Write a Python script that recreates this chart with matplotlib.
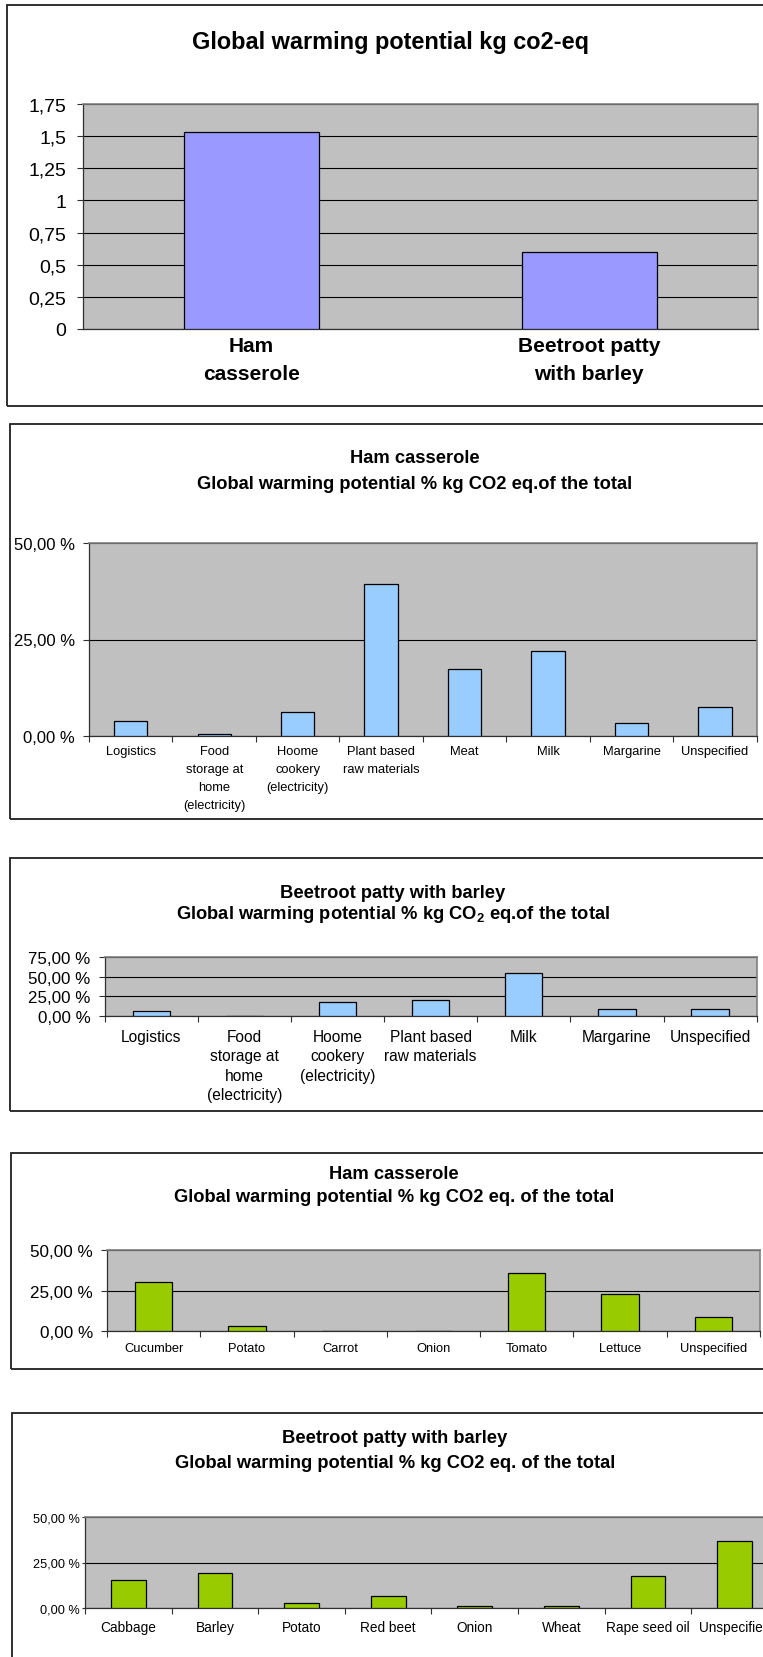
import matplotlib
matplotlib.use("Agg")
import matplotlib.pyplot as plt
from matplotlib.patches import Rectangle
from matplotlib.ticker import FuncFormatter
import numpy as np

plt.rcParams["font.family"] = ["Liberation Sans", "DejaVu Sans"]
plt.rcParams["mathtext.fontset"] = "custom"
plt.rcParams["mathtext.rm"] = "Liberation Sans"
plt.rcParams["mathtext.bf"] = "Liberation Sans:bold"

# ---- data ----
dish_labels = ["Ham\ncasserole", "Beetroot patty\nwith barley"]
dish_gwp_kg = [1.53, 0.60]

ham_stage_labels = ["Logistics", "Food\nstorage at\nhome\n(electricity)",
                    "Hoome\ncookery\n(electricity)", "Plant based\nraw materials",
                    "Meat", "Milk", "Margarine", "Unspecified"]
ham_stage_pct = [3.7, 0.4, 6.2, 39.5, 17.4, 21.9, 3.4, 7.4]

beet_stage_labels = ["Logistics", "Food\nstorage at\nhome\n(electricity)",
                     "Hoome\ncookery\n(electricity)", "Plant based\nraw materials",
                     "Milk", "Margarine", "Unspecified"]
beet_stage_pct = [5.6, 0.0, 18.0, 20.1, 54.9, 8.1, 8.1]

ham_plant_labels = ["Cucumber", "Potato", "Carrot", "Onion", "Tomato", "Lettuce", "Unspecified"]
ham_plant_pct = [30.4, 3.3, 0.0, 0.0, 35.5, 22.9, 9.0]

beet_plant_labels = ["Cabbage", "Barley", "Potato", "Red beet", "Onion", "Wheat",
                     "Rape seed oil", "Unspecified"]
beet_plant_pct = [15.5, 19.5, 3.1, 6.9, 1.3, 1.3, 17.5, 36.5]

# ---- figure in pixel units ----
W, H = 763, 1658
fig = plt.figure(figsize=(W / 100, H / 100), dpi=100)
fig.patch.set_facecolor("white")


def px_axes(x0, y0, x1, y1):
    return fig.add_axes([x0 / W, 1 - y1 / H, (x1 - x0) / W, (y1 - y0) / H])


def frame(x0, y0, x1, y1):
    fig.add_artist(Rectangle((x0 / W, 1 - y1 / H), (x1 - x0) / W, (y1 - y0) / H,
                             transform=fig.transFigure, fill=False,
                             edgecolor="#202020", linewidth=1.3))


def ftext(x, y, s, size, bold=True):
    fig.text(x / W, 1 - y / H, s, ha="center", va="center", fontsize=size,
             fontweight="bold" if bold else "normal", color="black")


pct_fmt = FuncFormatter(lambda v, p: f"{v:.2f} %".replace(".", ","))
kg_fmt = FuncFormatter(lambda v, p: f"{v:g}".replace(".", ","))


def bar_panel(ax, labels, values, color, ymax, ystep, yfmt, ysize, xsize,
              xpad, ypad=6, ylen=4, xbold=False, cat_ticks=True, linesp=1.25):
    n = len(values)
    x = np.arange(n)
    ax.set_facecolor("#C0C0C0")
    ax.bar(x, values, width=0.4, color=color, edgecolor="black",
           linewidth=0.9, zorder=3)
    ax.set_xlim(-0.5, n - 0.5)
    ax.set_ylim(0, ymax)
    ax.set_yticks(np.arange(0, ymax + 1e-9, ystep))
    ax.yaxis.set_major_formatter(yfmt)
    ax.yaxis.grid(True, color="black", linewidth=0.8)
    ax.set_axisbelow(True)
    ax.set_xticks(x)
    ax.set_xticklabels(labels, fontsize=xsize,
                       fontweight="bold" if xbold else "normal",
                       linespacing=linesp, va="top")
    ax.tick_params(axis="x", which="major", length=0, pad=xpad)
    if cat_ticks:
        ax.set_xticks(np.arange(n + 1) - 0.5, minor=True)
        ax.tick_params(axis="x", which="minor", length=4, width=0.8,
                       direction="out", color="#303030")
    ax.tick_params(axis="y", length=ylen, width=0.8, pad=ypad,
                   labelsize=ysize, color="#303030")
    for side in ("top", "right"):
        ax.spines[side].set_color("#808080")
        ax.spines[side].set_linewidth(1.2)
    for side in ("left", "bottom"):
        ax.spines[side].set_color("#303030")
        ax.spines[side].set_linewidth(0.9)


# Panel 1: total GWP per dish
frame(7.3, 6, W + 10, 406.7)
ftext(390, 43, "Global warming potential kg co2-eq", 16.9)
ax1 = px_axes(82.7, 105, 758, 330)
bar_panel(ax1, dish_labels, dish_gwp_kg, "#9999FF", 1.75, 0.25, kg_fmt,
          ysize=14, xsize=15, xpad=5, ypad=8, xbold=True, cat_ticks=False,
          linesp=1.6)

# Panel 2: ham casserole by life-cycle stage
frame(9.7, 425.3, W + 10, 820)
ftext(415, 458.7, "Ham casserole", 13.2)
ftext(415, 484.2, "Global warming potential % kg CO2 eq.of the total", 13.2)
ax2 = px_axes(89, 544.3, 756.7, 736.7)
bar_panel(ax2, ham_stage_labels, ham_stage_pct, "#99CCFF", 50, 25, pct_fmt,
          ysize=12, xsize=9.3, xpad=7, linesp=1.65)

# Panel 3: beetroot patty by life-cycle stage
frame(9.7, 859.3, W + 10, 1111.7)
ftext(393, 893.5, "Beetroot patty with barley", 13.2)
ftext(393, 915, r"Global warming potential % kg CO$_\mathbf{2}$ eq.of the total", 13.2)
ax3 = px_axes(104.6, 958.3, 756.7, 1016.7)
bar_panel(ax3, beet_stage_labels, beet_stage_pct, "#99CCFF", 75, 25, pct_fmt,
          ysize=12.2, xsize=11.2, xpad=9.5, linesp=1.36)

# Panel 4: ham casserole plant based raw materials
frame(10.7, 1154, W + 10, 1370)
ftext(393.7, 1175, "Ham casserole", 13.2)
ftext(393.7, 1198, "Global warming potential % kg CO2 eq. of the total", 13.2)
ax4 = px_axes(107, 1250.7, 760, 1332.3)
bar_panel(ax4, ham_plant_labels, ham_plant_pct, "#99CC00", 50, 25, pct_fmt,
          ysize=12.3, xsize=9.3, xpad=8)

# Panel 5: beetroot patty plant based raw materials
frame(12, 1414, W + 10, H + 10)
ftext(395, 1438.5, "Beetroot patty with barley", 13.2)
ftext(395, 1464, "Global warming potential % kg CO2 eq. of the total", 13.2)
ax5 = px_axes(85, 1517.7, 778, 1609.3)
bar_panel(ax5, beet_plant_labels, beet_plant_pct, "#99CC00", 50, 25, pct_fmt,
          ysize=9.2, xsize=9.8, xpad=8.5, ypad=1.5, ylen=2.5)

fig.savefig("out.png", dpi=100)
